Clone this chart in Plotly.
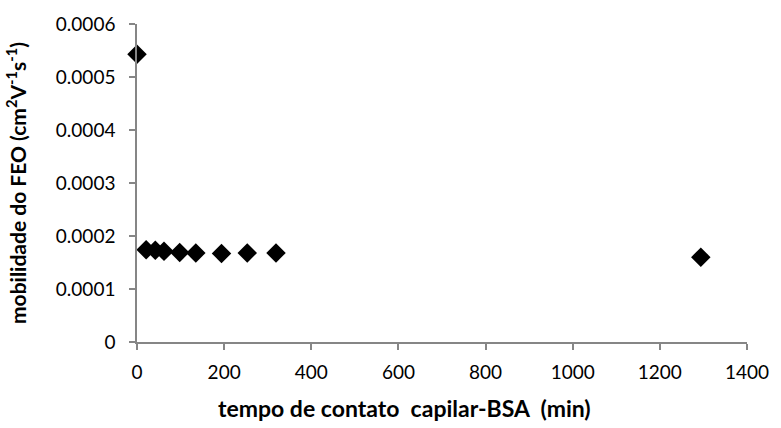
import plotly.graph_objects as go

tempo = [0, 21, 42, 62, 98, 135, 194, 253, 319, 1294]
mobilidade = [0.000543, 0.000174, 0.000173, 0.000171, 0.000169, 0.000168, 0.000167, 0.000168, 0.000168, 0.000160]
x_ticks = [0, 200, 400, 600, 800, 1000, 1200, 1400]
y_ticks = [0, 0.0001, 0.0002, 0.0003, 0.0004, 0.0005, 0.0006]
y_tick_labels = ["0", "0.0001", "0.0002", "0.0003", "0.0004", "0.0005", "0.0006"]
x_title = "tempo de contato  capilar-BSA  (min)"
y_title = "mobilidade do FEO (cm<sup>2</sup>V<sup>-1</sup>s<sup>-1</sup>)"

fig = go.Figure()
fig.add_trace(go.Scatter(
    x=tempo, y=mobilidade, mode="markers",
    marker=dict(symbol="diamond", size=15, color="black"),
    cliponaxis=False, showlegend=False,
))

axis_common = dict(
    showgrid=False, zeroline=False, showline=True, linecolor="#868686", linewidth=1.5,
    ticks="outside", tickcolor="#868686", ticklen=6, tickwidth=1.5,
    tickfont=dict(family="Lato, Open Sans, sans-serif", size=19, color="black"),
)

fig.update_layout(
    width=781, height=428,
    margin=dict(l=137, r=28, t=19, b=86),
    plot_bgcolor="white", paper_bgcolor="white",
    xaxis=dict(range=[0, 1400], tickvals=x_ticks, ticktext=[str(v) for v in x_ticks],
               ticklabelstandoff=6, **axis_common),
    yaxis=dict(range=[0, 0.0006], tickvals=y_ticks, ticktext=y_tick_labels,
               ticklabelstandoff=10,
               title=dict(text=y_title, standoff=24,
                          font=dict(family="Lato, Open Sans, sans-serif", size=21, color="black", weight="bold")),
               **axis_common),
    annotations=[dict(
        text=x_title, xref="paper", yref="paper", x=0.438, y=-0.207,
        xanchor="center", yanchor="middle", showarrow=False,
        font=dict(family="Lato, Open Sans, sans-serif", size=23, color="black", weight="bold"),
    )],
)

fig.write_html("out.html")
